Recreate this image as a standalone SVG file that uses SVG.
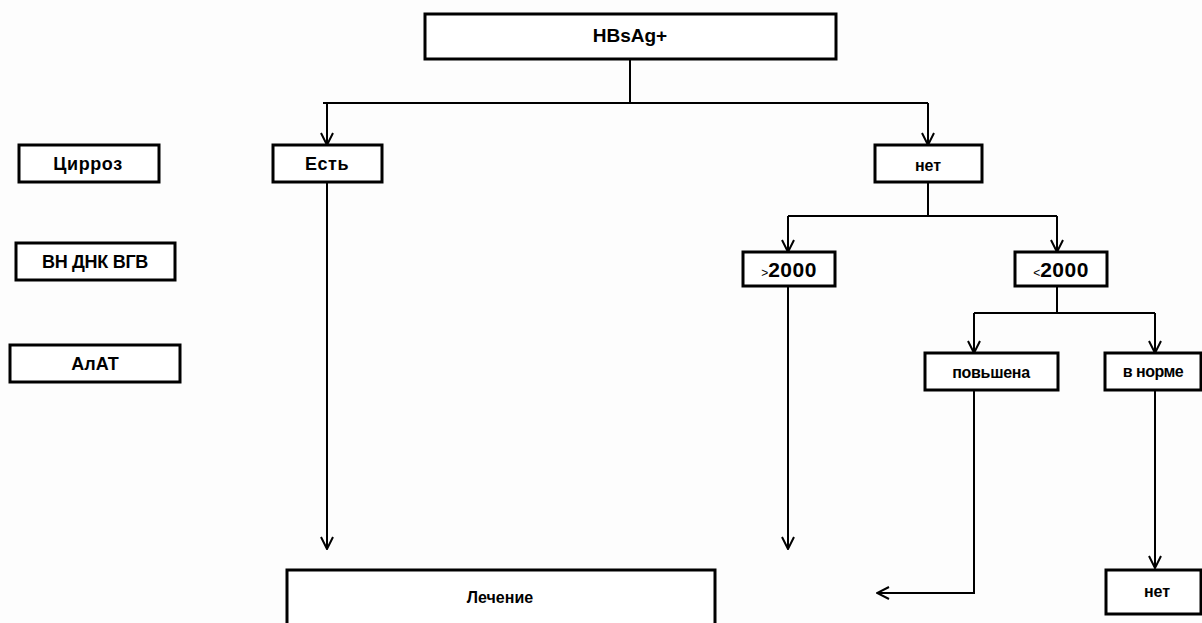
<svg xmlns="http://www.w3.org/2000/svg" width="1202" height="623" viewBox="0 0 1202 623">
<style>
.box{fill:#fff;stroke:#000;stroke-width:3}
.t{font-family:"Liberation Sans",Arial,sans-serif;font-weight:bold;font-size:18px;text-anchor:middle;fill:#000}
.s{font-size:16px}
.c{fill:none;stroke:#000;stroke-width:2}
</style>
<defs>
<marker id="a" viewBox="0 0 14 14" refX="13" refY="7" markerWidth="14" markerHeight="14" markerUnits="userSpaceOnUse" orient="auto">
<path d="M1,1 L13,7 L1,13" fill="none" stroke="#000" stroke-width="2"/>
</marker>
</defs>
<rect x="0" y="0" width="1202" height="623" fill="#fdfdfd"/>
<g id="connectors">
<path class="c" d="M630,59 V103"/>
<path class="c" d="M323,103 H928"/>
<path class="c" d="M327,103 V145" marker-end="url(#a)"/>
<path class="c" d="M928,103 V145" marker-end="url(#a)"/>
<path class="c" d="M327,182 V549" marker-end="url(#a)"/>
<path class="c" d="M928,182 V216"/>
<path class="c" d="M788,216 H1057"/>
<path class="c" d="M788,216 V252" marker-end="url(#a)"/>
<path class="c" d="M1057,216 V252" marker-end="url(#a)"/>
<path class="c" d="M788,286 V549" marker-end="url(#a)"/>
<path class="c" d="M1057,286 V313"/>
<path class="c" d="M974,313 H1155"/>
<path class="c" d="M974,313 V353" marker-end="url(#a)"/>
<path class="c" d="M1155,313 V353" marker-end="url(#a)"/>
<path class="c" d="M974,390 V593 H877" marker-end="url(#a)"/>
<path class="c" d="M1155,390 V568" marker-end="url(#a)"/>
</g>
<g id="n-hbsag"><rect class="box" x="425" y="14" width="411" height="45"/><text class="t" x="630" y="42" style="font-size:19px">HBsAg+</text></g>
<g id="n-cirrhosis"><rect class="box" x="19" y="145" width="140" height="37"/><text class="t" x="88" y="170" letter-spacing="0.6">Цирроз</text></g>
<g id="n-dna"><rect class="box" x="16" y="243" width="159" height="37"/><text class="t" x="95" y="268" letter-spacing="-0.3">ВН ДНК ВГВ</text></g>
<g id="n-alt"><rect class="box" x="10" y="345" width="170" height="37"/><text class="t" x="95" y="370">АлАТ</text></g>
<g id="n-yes"><rect class="box" x="273" y="145" width="109" height="37"/><text class="t" x="327" y="170" letter-spacing="0.5">Есть</text></g>
<g id="n-no"><rect class="box" x="875" y="145" width="107" height="37"/><text class="t s" x="928" y="171">нет</text></g>
<g id="n-gt"><rect class="box" x="743" y="252" width="92" height="34"/><text class="t" x="789" y="277"><tspan style="font-size:12px;font-weight:normal">&gt;</tspan><tspan style="font-size:21px" letter-spacing="0.5">2000</tspan></text></g>
<g id="n-lt"><rect class="box" x="1015" y="252" width="92" height="34"/><text class="t" x="1061" y="277"><tspan style="font-size:12px;font-weight:normal">&lt;</tspan><tspan style="font-size:21px" letter-spacing="0.5">2000</tspan></text></g>
<g id="n-up"><rect class="box" x="925" y="353" width="133" height="37"/><text class="t s" x="991" y="378" letter-spacing="-0.3">повьшена</text></g>
<g id="n-norm"><rect class="box" x="1105" y="353" width="96" height="37"/><text class="t s" x="1153" y="377" letter-spacing="-0.5">в норме</text></g>
<g id="n-treat"><rect class="box" x="287" y="570" width="428" height="60"/><text class="t s" x="500" y="603">Лечение</text></g>
<g id="n-none"><rect class="box" x="1106" y="570" width="95" height="44"/><text class="t s" x="1157" y="597">нет</text></g>
</svg>
